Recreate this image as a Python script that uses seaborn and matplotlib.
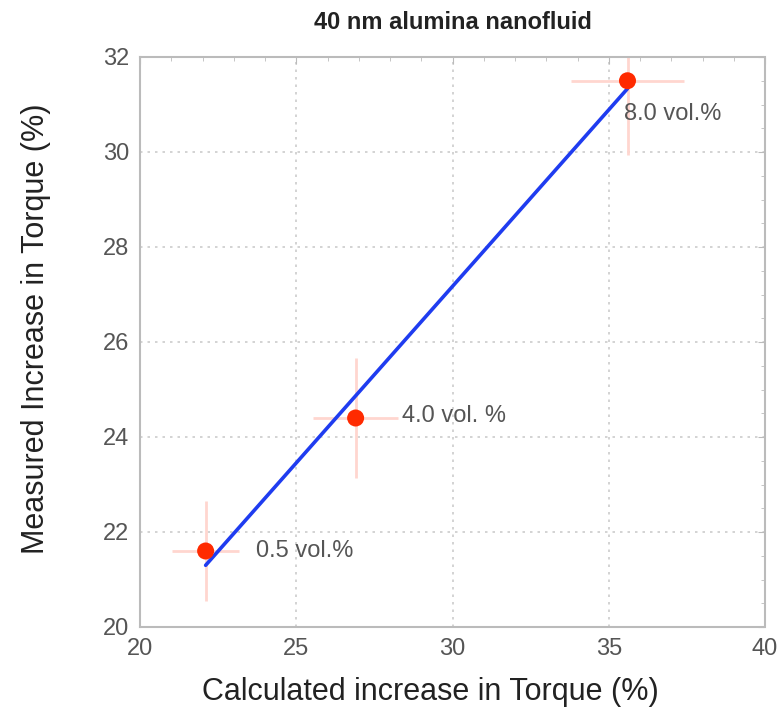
import numpy as np
import pandas as pd
import matplotlib
matplotlib.use("Agg")
import matplotlib.pyplot as plt
import seaborn as sns
from matplotlib.ticker import MultipleLocator

# Data
calc_increase = [22.1, 26.9, 35.6]
meas_increase = [21.6, 24.4, 31.5]
x_err = [1.07, 1.37, 1.8]
y_err = [1.06, 1.26, 1.56]
point_labels = ["0.5 vol.%", "4.0 vol. %", "8.0 vol.%"]
title = "40 nm alumina nanofluid"
x_label = "Calculated increase in Torque (%)"
y_label = "Measured Increase in Torque (%)"

df = pd.DataFrame({"calc": calc_increase, "meas": meas_increase})

sns.set_style("white")
plt.rcParams["font.family"] = ["Liberation Sans", "DejaVu Sans"]

fig = plt.figure(figsize=(7.83, 7.14), dpi=100)
ax = fig.add_axes([140/783, 1-627/714, 625/783, 570/714])

ax.errorbar(calc_increase, meas_increase, xerr=x_err, yerr=y_err, fmt="none",
            ecolor="#ffd6cf", elinewidth=2, capsize=0, zorder=2)
sns.regplot(data=df, x="calc", y="meas", ci=None, scatter=False, ax=ax,
            line_kws=dict(color="#1f3cf0", lw=2.6, zorder=3))
sns.scatterplot(data=df, x="calc", y="meas", ax=ax, color="#ff2a00", s=150,
                edgecolor="none", zorder=4)

offsets = [(1.6, 0.0), (1.5, 0.05), (-0.1, -0.7)]
for xv, yv, lab, (dx, dy) in zip(calc_increase, meas_increase, point_labels, offsets):
    ax.text(xv + dx, yv + dy, lab, fontsize=17, color="#555555", va="center", ha="left")

ax.set_xlim(20, 40)
ax.set_ylim(20, 32)
ax.xaxis.set_major_locator(MultipleLocator(5))
ax.xaxis.set_minor_locator(MultipleLocator(1))
ax.yaxis.set_major_locator(MultipleLocator(2))
ax.yaxis.set_minor_locator(MultipleLocator(0.5))
ax.grid(True, which="major", color="#cccccc", linestyle=(0, (1.5, 3)), linewidth=1.2)
ax.tick_params(which="both", direction="in", top=True, right=True, color="#bbbbbb",
               labelcolor="#555555", labelsize=17)
ax.tick_params(which="major", length=5, pad=8)
ax.tick_params(which="minor", length=3)
for sp in ax.spines.values():
    sp.set_color("#bbbbbb")
    sp.set_linestyle((0, (2, 1)))
    sp.set_linewidth(1.5)

ax.set_xlabel(x_label, fontsize=22, color="#222222")
ax.set_ylabel(y_label, fontsize=22, color="#222222")
ax.xaxis.set_label_coords(0.464, -0.088)
ax.yaxis.set_label_coords(-0.143, 0.523)
ax.set_title(title, fontsize=17, fontweight="bold", color="#222222", pad=20)

fig.savefig("out.png", dpi=100)
